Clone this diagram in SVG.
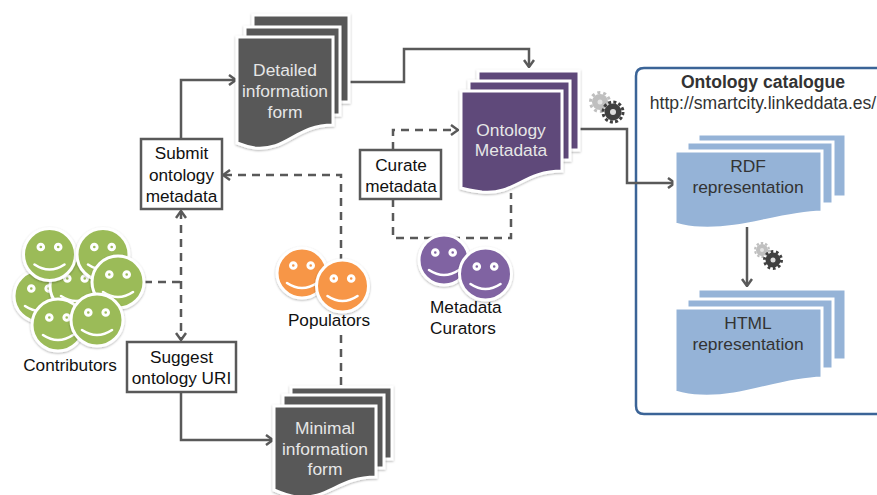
<svg xmlns="http://www.w3.org/2000/svg" width="877" height="495" viewBox="0 0 877 495">
<style>
text{font-family:"Liberation Sans",Arial,sans-serif;font-size:17.200px;text-anchor:middle;fill:#111}
text.dk{fill:#e6e6e6;font-size:17.400px}
.blt{fill:#333;font-size:17.400px}
.cat{fill:#333;font-size:17.600px}
.c{fill:none;stroke:#595959;stroke-width:2.500}
.d{fill:none;stroke:#595959;stroke-width:2.500;stroke-dasharray:8 6}
.box{fill:#fff;stroke:#595959;stroke-width:2.500}
.gy{fill:#595959;stroke:#fff;stroke-width:3;filter:url(#sh)}
.pu{fill:#5f497a;stroke:#fff;stroke-width:3;filter:url(#sh)}
.bl{fill:#95b3d7;stroke:#fff;stroke-width:3}
.face{stroke:#fff;stroke-width:3;filter:url(#sh)}
.gr{fill:#9bbb59}.or{fill:#f79646}.vi{fill:#8064a2}
.eye{fill:none;stroke:#fff;stroke-width:3}
.sm{fill:none;stroke:#fff;stroke-width:2.600;stroke-linecap:round}
</style>
<defs>
<filter id="sh" x="-15%" y="-15%" width="130%" height="130%"><feDropShadow dx="0" dy="1" stdDeviation="1.200" flood-color="#000" flood-opacity="0.300"/></filter>
<marker id="a" viewBox="0 0 10 12" refX="9" refY="6" markerWidth="10" markerHeight="12" markerUnits="userSpaceOnUse" orient="auto-start-reverse"><path d="M2 1L9 6L2 11" fill="none" stroke="#595959" stroke-width="2.500"/></marker>
<g id="face"><circle class="eye" cx="-8.700" cy="-7.500" r="2.800"/><circle class="eye" cx="8.700" cy="-7.500" r="2.800"/><path class="sm" d="M-15 10Q0 20 15 10"/></g>
</defs>

<g id="catalogue">
<path d="M885 68H644Q636 68 636 76V406Q636 414 644 414H885" fill="#fff" stroke="#3b6497" stroke-width="2.500"/>
<text x="763" y="88" class="cat" style="font-weight:bold">Ontology catalogue</text>
<text x="763" y="109" class="cat">http://smartcity.linkeddata.es/</text>
</g>

<g id="connectors">
<path class="c" d="M181 139V80H236" marker-end="url(#a)"/>
<path class="c" d="M349 82H404V49H529V67" marker-end="url(#a)"/>
<path class="c" d="M580 129H627V183H675" marker-end="url(#a)"/>
<path class="c" d="M747 227V286" marker-end="url(#a)"/>
<path class="c" d="M181 392V440H273" marker-end="url(#a)"/>
<path class="d" d="M181 211V340" marker-start="url(#a)" marker-end="url(#a)"/>
<path class="d" d="M144 282H181"/>
<path class="d" d="M341 262V175H223" marker-end="url(#a)"/>
<path class="d" d="M341 385V335"/>
<path class="d" d="M393 150V130H458" marker-end="url(#a)"/>
<path class="d" d="M393 199V238H511V193"/>
</g>

<g id="detailed-form">
<rect class="gy" x="253" y="15" width="96" height="87"/>
<rect class="gy" x="245" y="27" width="95" height="88"/>
<path class="gy" d="M237 37H333V125C296 125 287 151 255 148C248 147 242 145 237 143Z"/>
<text class="dk" x="285" y="76">Detailed</text><text class="dk" x="285" y="97">information</text><text class="dk" x="285" y="118">form</text>
</g>

<g id="ontology-metadata">
<rect class="pu" x="478" y="71" width="101" height="79"/>
<rect class="pu" x="469" y="81" width="101" height="79"/>
<path class="pu" d="M461 91H562V171C524 171 515 195 482 192C474 191 467 190 461 188Z"/>
<text class="dk" x="511" y="136">Ontology</text><text class="dk" x="511" y="156">Metadata</text>
</g>

<g id="gears-1">
<circle cx="600" cy="102" r="8" fill="#bfbfbf"/><circle cx="600" cy="102" r="9.500" fill="none" stroke="#bfbfbf" stroke-width="3" stroke-dasharray="3 2.970"/><circle cx="600" cy="102" r="2.500" fill="#e4e4e4"/>
<circle cx="613" cy="112" r="8.500" fill="#404040"/><circle cx="613" cy="112" r="10" fill="none" stroke="#404040" stroke-width="3" stroke-dasharray="3 2.240"/><circle cx="613" cy="112" r="3" fill="#ddd"/>
</g>

<g id="submit"><rect class="box" x="141" y="139" width="81" height="70"/>
<text x="181.500" y="159">Submit</text><text x="181.500" y="181">ontology</text><text x="181.500" y="202">metadata</text></g>
<g id="suggest"><rect class="box" x="127" y="342" width="109" height="50"/>
<text x="181.500" y="363">Suggest</text><text x="181.500" y="384">ontology URI</text></g>
<g id="curate"><rect class="box" x="360" y="150" width="81" height="49"/>
<text x="401" y="171">Curate</text><text x="401" y="192">metadata</text></g>

<g id="rdf">
<rect class="bl" x="698" y="134" width="148" height="63"/>
<rect class="bl" x="687" y="142" width="146" height="62"/>
<path class="bl" d="M675 151H822V212C775 214 745 230 700 228C690 228 682 226 675 224Z"/>
<text x="748" y="172" class="blt">RDF</text><text x="748" y="193" class="blt">representation</text>
</g>
<g id="gears-2">
<circle cx="762" cy="250" r="6" fill="#bfbfbf"/><circle cx="762" cy="250" r="7" fill="none" stroke="#bfbfbf" stroke-width="2" stroke-dasharray="2.500 2"/><circle cx="762" cy="250" r="2" fill="#e4e4e4"/>
<circle cx="773" cy="260" r="7.500" fill="#404040"/><circle cx="773" cy="260" r="8.500" fill="none" stroke="#404040" stroke-width="3" stroke-dasharray="2.700 2.640"/><circle cx="773" cy="260" r="2.500" fill="#ddd"/>
</g>
<g id="html">
<rect class="bl" x="698" y="289" width="148" height="71"/>
<rect class="bl" x="687" y="299" width="146" height="70"/>
<path class="bl" d="M675 308H822V378C775 380 745 398 700 396C690 396 682 394 675 392Z"/>
<text x="748" y="329" class="blt">HTML</text><text x="748" y="350" class="blt">representation</text>
</g>

<g id="minimal-form">
<rect class="gy" x="291" y="387" width="101" height="72"/>
<rect class="gy" x="283" y="395" width="101" height="73"/>
<path class="gy" d="M274 406H376V477C338 477 329 500 296 497C288 496 281 493 274 490Z"/>
<text class="dk" x="325" y="434">Minimal</text><text class="dk" x="325" y="455">information</text><text class="dk" x="325" y="475">form</text>
</g>

<g id="contributors">
<g transform="translate(40 296)"><circle class="face gr" r="26"/><use href="#face"/></g>
<g transform="translate(76 286)"><circle class="face gr" r="26"/><use href="#face"/></g>
<g transform="translate(49.500 254.500)"><circle class="face gr" r="26"/><use href="#face"/></g>
<g transform="translate(103 254.500)"><circle class="face gr" r="26"/><use href="#face"/></g>
<g transform="translate(118 282)"><circle class="face gr" r="26"/><use href="#face"/></g>
<g transform="translate(58 325)"><circle class="face gr" r="26"/><use href="#face"/></g>
<g transform="translate(97 320)"><circle class="face gr" r="26"/><use href="#face"/></g>
<text x="70" y="371">Contributors</text>
</g>
<g id="populators">
<g transform="translate(302 273)"><circle class="face or" r="25"/><use href="#face"/></g>
<g transform="translate(342.500 286)"><circle class="face or" r="26"/><use href="#face"/></g>
<text x="329" y="326">Populators</text>
</g>
<g id="curators">
<g transform="translate(444 260)"><circle class="face vi" r="25"/><use href="#face"/></g>
<g transform="translate(485.500 274)"><circle class="face vi" r="26"/><use href="#face"/></g>
<text x="430" y="313" style="text-anchor:start">Metadata</text><text x="430" y="334" style="text-anchor:start">Curators</text>
</g>
</svg>
